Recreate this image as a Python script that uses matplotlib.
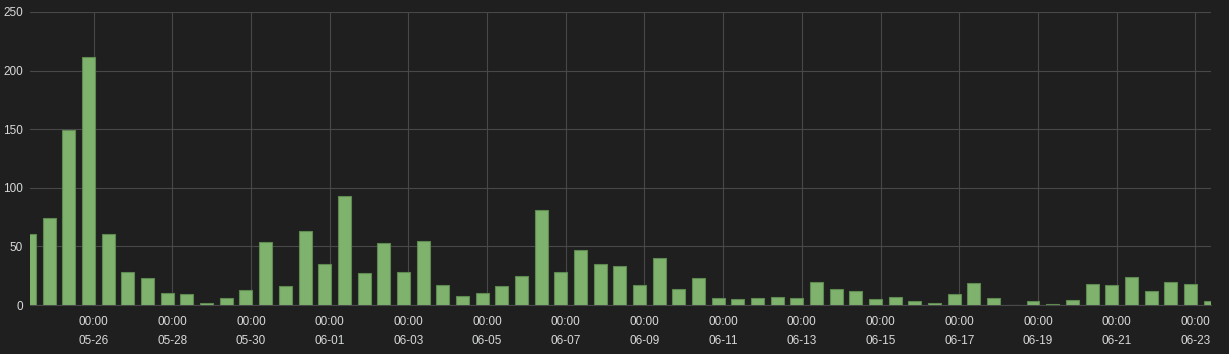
import numpy as np
import matplotlib
matplotlib.use('Agg')
import matplotlib.pyplot as plt
import matplotlib.dates as mdates
from datetime import datetime, timedelta

# --- data: one bar every 12 hours ---
start = datetime(2020, 5, 24, 9, 0)
counts = [61, 74, 149, 212, 61, 28, 23, 10, 9, 2,
          6, 13, 54, 16, 63, 35, 93, 27, 53, 28,
          55, 17, 8, 10, 16, 25, 81, 28, 47, 35,
          33, 17, 40, 14, 23, 6, 5, 6, 7, 6,
          20, 14, 12, 5, 7, 3, 2, 9, 19, 6,
          0, 3, 1, 4, 18, 17, 24, 12, 20, 18, 3]
times = [start + timedelta(hours=12 * i) for i in range(len(counts))]
y_ticks = [0, 50, 100, 150, 200, 250]
x_ticks = [datetime(2020, 5, 26) + timedelta(days=2 * i) for i in range(15)]

bg = '#1f1f1f'
txt = '#d8d9da'
grid_c = '#484848'

plt.rcParams['font.family'] = ['Liberation Sans', 'DejaVu Sans']

fig = plt.figure(figsize=(12.29, 3.54), dpi=100, facecolor=bg)
ax = fig.add_axes([30 / 1229, 49 / 354, 1181 / 1229, 293 / 354])
ax.set_facecolor(bg)

ax.bar(times, counts, width=0.33, color='#7eb26d', edgecolor='#5e8a50',
       linewidth=0.8, zorder=3)

ax.set_xlim(datetime(2020, 5, 24, 9, 16), datetime(2020, 6, 23, 9, 34))
ax.set_ylim(0, 250)
ax.set_yticks(y_ticks)
ax.set_xticks(x_ticks)
ax.xaxis.set_major_formatter(mdates.DateFormatter('%H:%M\n%m-%d'))

ax.grid(True, color=grid_c, linewidth=0.8, zorder=0)
for s in ['top', 'right', 'left']:
    ax.spines[s].set_visible(False)
ax.spines['bottom'].set_color(grid_c)

ax.tick_params(axis='both', length=0, colors=txt, labelsize=8.5)
ax.tick_params(axis='x', pad=8)
ax.tick_params(axis='y', pad=5)
for lab in ax.get_xticklabels():
    lab.set_linespacing(1.8)

fig.savefig('out.png', dpi=100, facecolor=bg)
